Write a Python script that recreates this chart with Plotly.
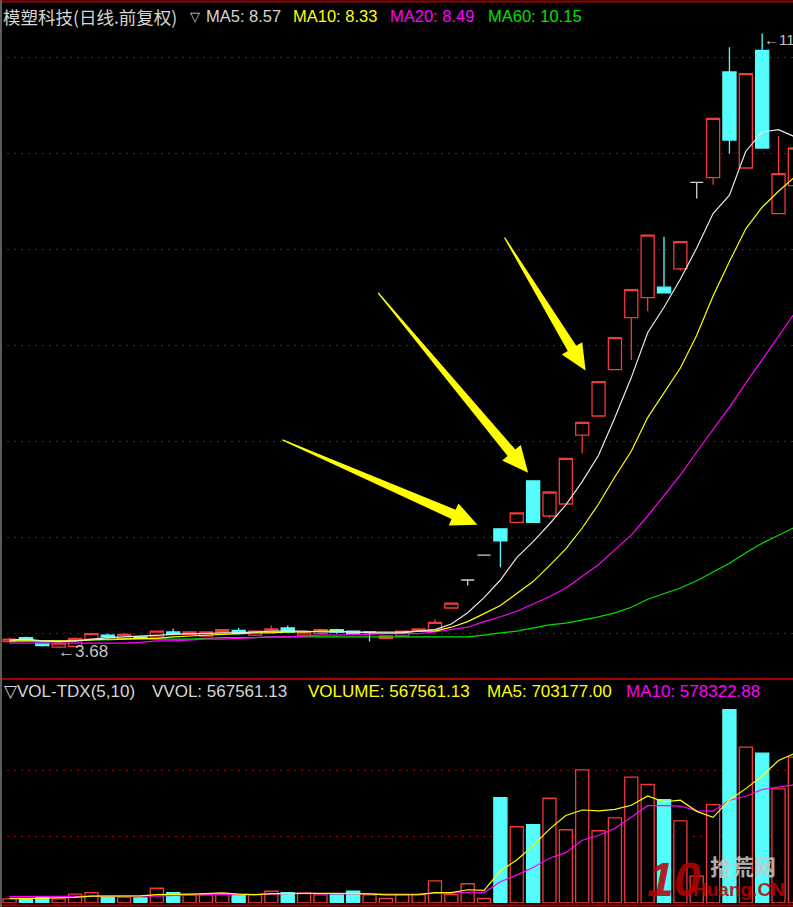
import math
import plotly.graph_objects as go

W, H = 793, 907

# ---------------- data ----------------
days = list(range(1, 50))

opens = [3.76, 3.81, 3.74, 3.69, 3.70, 3.79, 3.84, 3.80, 3.82, 3.82,
         3.88, 3.85, 3.83, 3.88, 3.90, 3.84, 3.88, 3.93, 3.84, 3.86,
         3.91, 3.89, 3.88, 3.80, 3.83, 3.90, 3.91, 4.18, 4.53, 4.84,
         5.17, 5.25, 5.77, 5.33, 5.48, 6.34, 6.58, 7.16, 7.81, 8.06,
         8.19, 8.42, 9.50, 9.56, 10.88, 9.68, 11.15, 9.11, 9.46]
highs = [3.81, 3.82, 3.75, 3.75, 3.81, 3.87, 3.86, 3.87, 3.83, 3.90,
         3.92, 3.89, 3.89, 3.92, 3.93, 3.90, 3.96, 3.96, 3.89, 3.92,
         3.92, 3.90, 3.89, 3.84, 3.90, 3.92, 4.04, 4.24, 4.53, 4.84,
         5.17, 5.37, 5.77, 5.63, 6.05, 6.50, 7.01, 7.56, 8.16, 8.84,
         8.82, 8.76, 9.50, 10.30, 11.19, 10.86, 11.36, 10.08, 9.93]
lows = [3.74, 3.77, 3.70, 3.68, 3.69, 3.78, 3.80, 3.79, 3.79, 3.81,
        3.84, 3.84, 3.82, 3.87, 3.85, 3.83, 3.87, 3.87, 3.83, 3.85,
        3.86, 3.84, 3.76, 3.79, 3.82, 3.90, 3.90, 4.18, 4.46, 4.84,
        4.69, 5.25, 5.25, 5.30, 5.48, 6.11, 6.58, 7.16, 7.28, 7.89,
        8.12, 8.40, 9.30, 9.47, 9.86, 9.68, 9.93, 9.11, 9.46]
closes = [3.79, 3.78, 3.71, 3.74, 3.80, 3.86, 3.82, 3.85, 3.80, 3.89,
          3.85, 3.88, 3.88, 3.91, 3.86, 3.89, 3.92, 3.88, 3.88, 3.91,
          3.88, 3.85, 3.88, 3.83, 3.89, 3.92, 4.00, 4.24, 4.53, 4.84,
          5.02, 5.37, 5.25, 5.63, 6.05, 6.50, 7.01, 7.56, 8.16, 8.84,
          8.12, 8.76, 9.50, 10.30, 10.03, 10.86, 9.93, 9.61, 9.93]

ma5 = [3.78, 3.79, 3.77, 3.76, 3.77, 3.79, 3.81, 3.82, 3.83, 3.84,
       3.85, 3.86, 3.86, 3.87, 3.87, 3.88, 3.89, 3.89, 3.89, 3.88,
       3.88, 3.88, 3.87, 3.87, 3.87, 3.89, 3.91, 3.98, 4.12, 4.31,
       4.53, 4.81, 5.01, 5.23, 5.47, 5.76, 6.09, 6.56, 7.06, 7.62,
       7.94, 8.29, 8.68, 9.11, 9.34, 9.89, 10.13, 10.16, 10.07]
ma10 = [3.77, 3.77, 3.77, 3.77, 3.77, 3.78, 3.79, 3.79, 3.80, 3.80,
        3.82, 3.83, 3.84, 3.85, 3.86, 3.87, 3.87, 3.88, 3.88, 3.89,
        3.89, 3.88, 3.88, 3.88, 3.88, 3.89, 3.89, 3.94, 4.01, 4.11,
        4.21, 4.36, 4.51, 4.71, 4.92, 5.18, 5.48, 5.82, 6.14, 6.56,
        6.87, 7.18, 7.59, 8.08, 8.51, 8.92, 9.19, 9.39, 9.57]
ma20 = [3.74, 3.74, 3.74, 3.74, 3.74, 3.74, 3.74, 3.74, 3.75, 3.77,
        3.77, 3.78, 3.79, 3.79, 3.80, 3.81, 3.82, 3.82, 3.83, 3.84,
        3.84, 3.85, 3.85, 3.86, 3.86, 3.86, 3.88, 3.91, 3.94, 4.01,
        4.07, 4.14, 4.23, 4.32, 4.43, 4.57, 4.72, 4.91, 5.09, 5.33,
        5.59, 5.84, 6.13, 6.41, 6.69, 6.99, 7.28, 7.57, 7.87]
ma60 = [3.77, 3.77, 3.77, 3.77, 3.77, 3.78, 3.78, 3.79, 3.79, 3.79,
        3.79, 3.79, 3.80, 3.81, 3.81, 3.81, 3.82, 3.82, 3.82, 3.82,
        3.82, 3.82, 3.82, 3.82, 3.82, 3.82, 3.82, 3.82, 3.82, 3.84,
        3.87, 3.89, 3.93, 3.97, 3.99, 4.03, 4.07, 4.12, 4.19, 4.29,
        4.36, 4.43, 4.52, 4.63, 4.74, 4.87, 4.99, 5.09, 5.19]

volume = [25000, 27000, 39000, 25000, 53000, 62000, 35000, 35000, 31000, 89000,
          62000, 49000, 51000, 55000, 51000, 51000, 71000, 62000, 59000, 49000,
          49000, 71000, 49000, 27000, 51000, 51000, 134000, 51000, 116000, 27000,
          635000, 460000, 472000, 632000, 442000, 803000, 436000, 514000, 759000, 715000,
          623000, 496000, 162000, 594000, 1166000, 940000, 904000, 689000, 880000]
vol_ma5 = [28000, 26000, 30000, 30000, 34000, 41000, 43000, 42000, 43000, 50000,
           50000, 53000, 56000, 61000, 54000, 51000, 56000, 58000, 59000, 58000,
           58000, 58000, 55000, 49000, 49000, 50000, 62000, 63000, 80000, 76000,
           193000, 260000, 346000, 446000, 528000, 561000, 556000, 565000, 590000, 646000,
           610000, 620000, 553000, 517000, 622000, 690000, 766000, 860000, 903000]
vol_ma10 = [38000, 40000, 40000, 40000, 40000, 42000, 42000, 43000, 43000, 42000,
            46000, 48000, 49000, 52000, 52000, 51000, 55000, 57000, 60000, 56000,
            55000, 57000, 57000, 54000, 54000, 54000, 60000, 59000, 65000, 63000,
            128000, 168000, 214000, 270000, 304000, 379000, 407000, 451000, 518000, 587000,
            587000, 585000, 556000, 554000, 620000, 644000, 685000, 702000, 715000]

low_label = "←3.68"
high_label = "←11.36"
main_header = [("模塑科技(日线.前复权)", "cjk"), ("▽", "w"), ("MA5: 8.57", "w"),
               ("MA10: 8.33", "y"), ("MA20: 8.49", "m"), ("MA60: 10.15", "g")]
vol_header = [("▽VOL-TDX(5,10)", "w"), ("VVOL: 567561.13", "w"), ("VOLUME: 567561.13", "y"),
              ("MA5: 703177.00", "y"), ("MA10: 578322.88", "m")]

# ---------------- style ----------------
RED = '#f23838'
CYAN = '#54fcfc'
DOJI = '#d0d0d0'
WHITE = '#d6d6d6'
YEL = '#ffff00'
MAG = '#ff00ff'
GRN = '#00e000'
GRID = '#a00000'
COLORS = {"w": WHITE, "cjk": WHITE, "y": YEL, "m": MAG, "g": GRN}
LAT = "Liberation Sans, Arial, sans-serif"
CJK = "Noto Sans CJK SC, sans-serif"


def paper_y(px):
    return 1 - px / H


def paper_x(px):
    return px / W


up_idx = [i for i in range(len(days)) if closes[i] > opens[i]]
dn_idx = [i for i in range(len(days)) if closes[i] < opens[i]]
dj_idx = [i for i in range(len(days)) if closes[i] == opens[i]]


def candles(idx, lu, fu, ld, fd):
    return go.Candlestick(
        x=[days[i] for i in idx], open=[opens[i] for i in idx],
        high=[highs[i] for i in idx], low=[lows[i] for i in idx],
        close=[closes[i] for i in idx],
        increasing=dict(line=dict(color=lu, width=1.3), fillcolor=fu),
        decreasing=dict(line=dict(color=ld, width=1.3), fillcolor=fd),
        whiskerwidth=0, hoverinfo='skip', showlegend=False, xaxis='x', yaxis='y')


fig = go.Figure()
fig.add_trace(candles(up_idx, RED, '#000000', RED, '#000000'))
fig.add_trace(candles(dn_idx, CYAN, CYAN, CYAN, CYAN))
fig.add_trace(candles(dj_idx, DOJI, DOJI, DOJI, DOJI))

for vals, col in [(ma60, GRN), (ma20, MAG), (ma10, YEL), (ma5, '#e8e8e8')]:
    fig.add_trace(go.Scatter(x=days, y=vals, mode='lines', line=dict(color=col, width=1.2),
                             hoverinfo='skip', showlegend=False, xaxis='x', yaxis='y'))

is_up = [closes[i] >= opens[i] for i in range(len(days))]
fig.add_trace(go.Bar(x=days, y=volume, width=0.8,
                     marker=dict(color=['#000000' if u else CYAN for u in is_up],
                                 line=dict(color=[RED if u else CYAN for u in is_up], width=1.3)),
                     hoverinfo='skip', showlegend=False, xaxis='x2', yaxis='y2'))
for vals, col in [(vol_ma10, MAG), (vol_ma5, YEL)]:
    fig.add_trace(go.Scatter(x=days, y=vals, mode='lines', line=dict(color=col, width=1.2),
                             hoverinfo='skip', showlegend=False, xaxis='x2', yaxis='y2'))

# axes geometry
x_range = [0.4132, 48.885]
main_dom = [paper_y(678), paper_y(2)]
price_range = [3.305, 11.755]
grid_prices = [3.86, 5.06, 6.26, 7.46, 8.66, 9.86, 11.06]
vol_dom = [paper_y(903), paper_y(680)]
vol_range = [0, 1345400]

ax_common = dict(showticklabels=False, ticks='', showline=False, zeroline=False,
                 showgrid=True, gridcolor=GRID, gridwidth=1, griddash='2px,5px')

fig.update_layout(
    width=W, height=H, margin=dict(l=0, r=0, t=0, b=0),
    paper_bgcolor='#000000', plot_bgcolor='#000000',
    showlegend=False, hovermode=False, boxgap=0.2, boxgroupgap=0,
    xaxis=dict(domain=[0, 1], range=x_range, anchor='y', visible=False,
               rangeslider=dict(visible=False)),
    xaxis2=dict(domain=[0, 1], range=x_range, anchor='y2', visible=False),
    yaxis=dict(domain=main_dom, range=price_range, tickvals=grid_prices, anchor='x', **ax_common),
    yaxis2=dict(domain=vol_dom, range=vol_range, tickvals=[400000, 800000], anchor='x2', **ax_common),
)

shapes = []
# frame lines
for yy in [1.5, 679, 905.5]:
    shapes.append(dict(type='line', xref='paper', yref='paper', x0=0, x1=1,
                       y0=paper_y(yy), y1=paper_y(yy), line=dict(color='#a80000', width=2)))
shapes.append(dict(type='line', xref='paper', yref='paper', x0=paper_x(1), x1=paper_x(1),
                   y0=0, y1=1, line=dict(color='#5c5c5c', width=2)))


# yellow arrows pointing at candles (pixel offsets from the candle's high)
def arrow_path(tip, tail, head_len=26.0, head_half=12.0, shaft_half=5.0, tail_half=0.6):
    dx, dy = tip[0] - tail[0], tip[1] - tail[1]
    L = math.hypot(dx, dy)
    ux, uy = dx / L, dy / L
    nx, ny = -uy, ux
    bx, by = tip[0] - ux * head_len, tip[1] - uy * head_len
    pts = [(tail[0] + nx * tail_half, tail[1] + ny * tail_half),
           (bx + nx * shaft_half, by + ny * shaft_half),
           (bx + nx * head_half, by + ny * head_half),
           tip,
           (bx - nx * head_half, by - ny * head_half),
           (bx - nx * shaft_half, by - ny * shaft_half),
           (tail[0] - nx * tail_half, tail[1] - ny * tail_half)]
    return 'M ' + ' L '.join(f'{x:.1f},{y:.1f}' for x, y in pts) + ' Z'


arrow_specs = [(31, (-23, 4), (-218, 89)),
               (33, (-5, 8), (-155, 188)),
               (37, (-13, 11), (-94, 144))]
for day, tip, tail in arrow_specs:
    shapes.append(dict(type='path', xref='x', yref='y', xsizemode='pixel', ysizemode='pixel',
                       xanchor=day, yanchor=highs[day - 1], path=arrow_path(tip, tail),
                       fillcolor='#ffff00', line=dict(width=0), layer='above'))
fig.update_layout(shapes=shapes)

ann = []
main_x = [1, 188, 204, 291, 388, 486]
for (txt, c), xp in zip(main_header, main_x):
    ann.append(dict(text=txt, xref='paper', yref='paper', x=paper_x(xp), y=paper_y(16.5),
                    xanchor='left', yanchor='middle', showarrow=False,
                    font=dict(family=CJK if c == 'cjk' else LAT,
                              size=17.5 if c == 'cjk' else (13 if txt == '▽' else 16.5),
                              color=COLORS[c])))
vol_x = [2, 150, 306, 485, 624]
for (txt, c), xp in zip(vol_header, vol_x):
    ann.append(dict(text=txt, xref='paper', yref='paper', x=paper_x(xp), y=paper_y(691),
                    xanchor='left', yanchor='middle', showarrow=False,
                    font=dict(family=LAT, size=17, color=COLORS[c])))

lo_i = lows.index(min(lows))
hi_i = highs.index(max(highs))
ann.append(dict(text=low_label, xref='x', yref='y', x=days[lo_i], y=lows[lo_i],
                xanchor='left', yanchor='middle', showarrow=False, xshift=-3, yshift=-3,
                font=dict(family=LAT, size=17, color='#c4c4c4')))
ann.append(dict(text=high_label, xref='x', yref='y', x=days[hi_i], y=highs[hi_i],
                xanchor='left', yanchor='middle', showarrow=False, xshift=0, yshift=-6,
                font=dict(family=LAT, size=15, color='#c4c4c4')))

# watermark
ann.append(dict(text='<b><i>10</i></b>', xref='paper', yref='paper', x=paper_x(674), y=paper_y(879),
                xanchor='center', yanchor='middle', showarrow=False, opacity=0.85,
                font=dict(family=LAT, size=48, color='#b80000')))
ann.append(dict(text='<b>拾荒网</b>', xref='paper', yref='paper', x=paper_x(743), y=paper_y(865),
                xanchor='center', yanchor='middle', showarrow=False, opacity=0.85,
                font=dict(family=CJK, size=22, color='#c8c8c8')))
ann.append(dict(text='<b>Huang.CN</b>', xref='paper', yref='paper', x=paper_x(739), y=paper_y(889),
                xanchor='center', yanchor='middle', showarrow=False, opacity=0.85,
                font=dict(family=LAT, size=19, color='#c00000')))
fig.update_layout(annotations=ann)

fig.write_html("out.html", config={'displayModeBar': False},
               post_script="document.body.style.margin='0';document.body.style.background='#000';")
